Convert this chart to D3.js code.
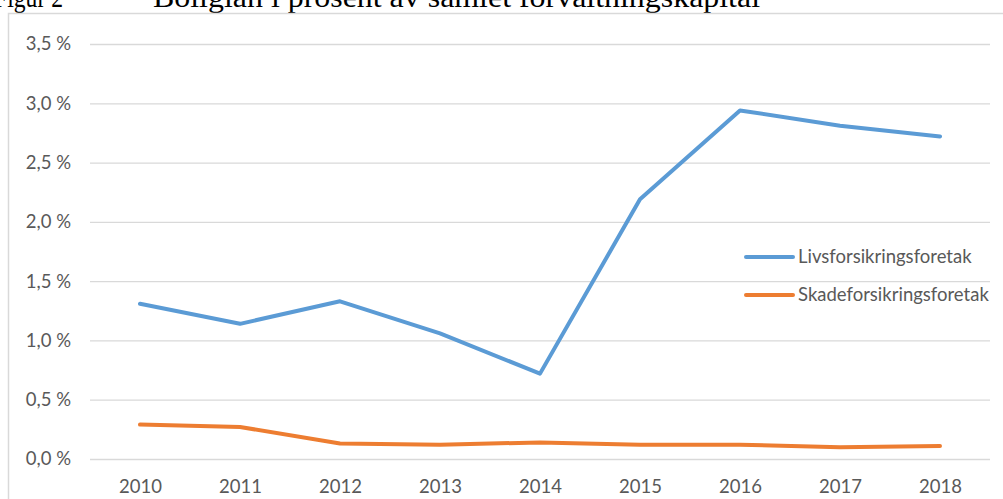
<!DOCTYPE html>
<html>
<head>
<meta charset="utf-8">
<script src="https://cdn.jsdelivr.net/npm/d3@7"></script>
<style>
  body { margin: 0; background: #fff; }
  svg { display: block; }
</style>
</head>
<body>
<div id="chart"></div>
<script>
'use strict';

// chart data
var years = ['2010', '2011', '2012', '2013', '2014', '2015', '2016', '2017', '2018'];
var livs = [1.31, 1.14, 1.33, 1.06, 0.72, 2.19, 2.94, 2.81, 2.72];
var skade = [0.29, 0.27, 0.13, 0.12, 0.14, 0.12, 0.12, 0.10, 0.11];
var yTicks = [0, 0.5, 1.0, 1.5, 2.0, 2.5, 3.0, 3.5];
var seriesNames = ['Livsforsikringsforetak', 'Skadeforsikringsforetak'];

//configuration variables
var config = {};
config.width      = 1003;
config.height     = 499;
config.left       = 90;
config.right      = 990;
config.top        = 44;
config.bottom     = 459;
config.grid       = '#d9d9d9';
config.text       = '#595959';
config.font       = 'Lato, "Open Sans", sans-serif';
config.fontSize   = 18.5;
config.colors     = ['#5b9bd5', '#ed7d31'];

var svg = d3.select('#chart')
    .append('svg')
    .attr('width', config.width)
    .attr('height', config.height);

//title from the document, cut off at the top
var title = svg.append('g')
    .style('font-family', '"Liberation Serif", "Times New Roman", serif')
    .style('font-size', '30px')
    .attr('fill', '#000');
title.append('text')
    .attr('x', -6).attr('y', 7)
    .attr('textLength', 69)
    .attr('lengthAdjust', 'spacingAndGlyphs')
    .text('Figur 2');
title.append('text')
    .attr('x', 153).attr('y', 7)
    .attr('textLength', 607)
    .attr('lengthAdjust', 'spacingAndGlyphs')
    .text('Boliglån i prosent av samlet forvaltningskapital');

//chart area border
svg.append('rect')
    .attr('x', 8.5).attr('y', 13.5)
    .attr('width', 1010).attr('height', 500)
    .attr('fill', 'none')
    .attr('stroke', config.grid)
    .attr('stroke-width', 1.5);

var x = d3.scalePoint()
    .domain(years)
    .range([config.left, config.right])
    .padding(0.5);

var y = d3.scaleLinear()
    .domain([0, 3.5])
    .range([config.bottom, config.top]);

var fmt = function(d){
    return d3.format('.1f')(d).replace('.', ',') + ' %';
};

//y axis with gridlines
var yAxis = svg.append('g')
    .attr('transform', 'translate(' + config.left + ',0)')
    .call(d3.axisLeft(y)
        .tickValues(yTicks)
        .tickSize(-(config.right - config.left))
        .tickPadding(19)
        .tickFormat(fmt));
yAxis.select('.domain').remove();
yAxis.selectAll('line')
    .attr('stroke', config.grid)
    .attr('stroke-width', 1.3);
yAxis.selectAll('text')
    .attr('fill', config.text)
    .style('font-family', config.font)
    .style('font-size', config.fontSize + 'px');

//x axis
var xAxis = svg.append('g')
    .attr('transform', 'translate(0,' + config.bottom + ')')
    .call(d3.axisBottom(x)
        .tickSize(0)
        .tickPadding(21));
xAxis.select('.domain').remove();
xAxis.selectAll('text')
    .attr('fill', config.text)
    .style('font-family', config.font)
    .style('font-size', config.fontSize + 'px');

//lines
var line = d3.line()
    .x(function(d, i){ return x(years[i]); })
    .y(function(d){ return y(d); });

svg.append('g')
    .selectAll('path')
    .data([livs, skade])
    .enter()
        .append('path')
        .attr('d', line)
        .attr('fill', 'none')
        .attr('stroke', function(d, i){ return config.colors[i]; })
        .attr('stroke-width', 4)
        .attr('stroke-linecap', 'round')
        .attr('stroke-linejoin', 'round');

//legend
var legend = svg.append('g')
    .selectAll('g')
    .data(seriesNames)
    .enter()
        .append('g')
        .attr('transform', function(d, i){
            return 'translate(746,' + (257 + i * 38) + ')';
        });
legend.append('line')
    .attr('x1', 0).attr('x2', 47)
    .attr('stroke', function(d, i){ return config.colors[i]; })
    .attr('stroke-width', 4)
    .attr('stroke-linecap', 'round');
legend.append('text')
    .attr('x', 52)
    .attr('dy', '0.35em')
    .attr('fill', config.text)
    .style('font-family', config.font)
    .style('font-size', config.fontSize + 'px')
    .text(function(d){ return d; });
</script>
</body>
</html>
